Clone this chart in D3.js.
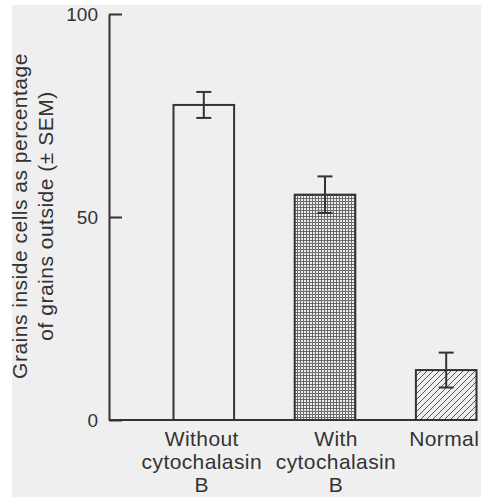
<!DOCTYPE html>
<html>
<head>
<meta charset="utf-8">
<script src="https://cdn.jsdelivr.net/npm/d3@7"></script>
<style>
  body { margin: 0; background: #fff; }
  svg { display: block; font-family: "Liberation Sans", Arial, sans-serif; }
</style>
</head>
<body>
<svg></svg>
<script>
const width = 489;
const height = 497;

// data
const categories = ["Without cytochalasin B", "With cytochalasin B", "Normal"];
const labelLines = [["Without", "cytochalasin", "B"], ["With", "cytochalasin", "B"], ["Normal"]];
const values = [77.6, 55.5, 12.3];
const sem = [3.2, 4.5, 4.3];
const yTicks = [0, 50, 100];
const fills = ["none", "url(#grid)", "url(#hatch)"];

const ink = "#333";

const svg = d3.select("svg")
    .attr("width", width)
    .attr("height", height);

// scanned page background
svg.append("rect")
    .attr("x", 12).attr("y", 5)
    .attr("width", 469).attr("height", height - 5)
    .attr("fill", "#efefef");

const defs = svg.append("defs");

// dense grid fill for the middle bar
const grid = defs.append("pattern")
    .attr("id", "grid")
    .attr("patternUnits", "userSpaceOnUse")
    .attr("width", 3).attr("height", 3);
grid.append("rect").attr("width", 3).attr("height", 3).attr("fill", "#ececec");
grid.append("path")
    .attr("d", "M0,0.5H3M0.5,0V3")
    .attr("stroke", "#6a6a6a")
    .attr("stroke-width", 1);

// diagonal hatch for the last bar
const hatch = defs.append("pattern")
    .attr("id", "hatch")
    .attr("patternUnits", "userSpaceOnUse")
    .attr("width", 6).attr("height", 6);
hatch.append("rect").attr("width", 6).attr("height", 6).attr("fill", "#efefef");
hatch.append("path")
    .attr("d", "M-1,1L1,-1M0,6L6,0M5,7L7,5")
    .attr("stroke", "#555")
    .attr("stroke-width", 1);

const x = d3.scaleBand()
    .domain(categories)
    .range([173.5, 476.5])
    .paddingInner(0.5)
    .paddingOuter(0);

const y = d3.scaleLinear()
    .domain([0, 100])
    .range([420, 14]);

const axisX = 109;

// y axis with inward ticks
const yAxis = svg.append("g")
    .attr("transform", `translate(${axisX},0)`)
    .call(d3.axisLeft(y).tickValues(yTicks).tickSize(-13).tickSizeOuter(0).tickPadding(11));
yAxis.select(".domain").attr("stroke", ink).attr("stroke-width", 2);
yAxis.selectAll(".tick line").attr("stroke", ink).attr("stroke-width", 2);
yAxis.selectAll(".tick text")
    .attr("fill", ink)
    .attr("font-size", 19)
    .attr("font-family", "Liberation Sans, Arial, sans-serif");

// baseline
svg.append("line")
    .attr("x1", axisX).attr("x2", x.range()[1])
    .attr("y1", y(0)).attr("y2", y(0))
    .attr("stroke", ink).attr("stroke-width", 2);

// bars
svg.append("g").selectAll("rect")
    .data(categories)
    .join("rect")
    .attr("x", d => x(d))
    .attr("y", (d, i) => y(values[i]))
    .attr("width", x.bandwidth())
    .attr("height", (d, i) => y(0) - y(values[i]))
    .attr("fill", (d, i) => fills[i])
    .attr("stroke", ink)
    .attr("stroke-width", 2);

// error bars
const err = svg.append("g")
    .attr("stroke", ink)
    .attr("stroke-width", 2)
    .selectAll("g")
    .data(categories)
    .join("g")
    .attr("transform", d => `translate(${x(d) + x.bandwidth() / 2},0)`);
err.append("line")
    .attr("y1", (d, i) => y(values[i] - sem[i]))
    .attr("y2", (d, i) => y(values[i] + sem[i]));
err.append("line")
    .attr("x1", -7.5).attr("x2", 7.5)
    .attr("y1", (d, i) => y(values[i] + sem[i]))
    .attr("y2", (d, i) => y(values[i] + sem[i]));
err.append("line")
    .attr("x1", -7.5).attr("x2", 7.5)
    .attr("y1", (d, i) => y(values[i] - sem[i]))
    .attr("y2", (d, i) => y(values[i] - sem[i]));

// category labels (hand-placed in the original, so small shifts)
const labelShift = [-2, 11, -2];
svg.append("g").selectAll("text")
    .data(categories)
    .join("text")
    .attr("x", (d, i) => x(d) + x.bandwidth() / 2 + labelShift[i])
    .attr("y", 446)
    .attr("text-anchor", "middle")
    .attr("font-size", 21)
    .attr("letter-spacing", 0.4)
    .attr("fill", ink)
    .selectAll("tspan")
    .data((d, i) => labelLines[i])
    .join("tspan")
    .attr("x", function () { return this.parentNode.getAttribute("x"); })
    .attr("dy", (d, j) => j === 0 ? 0 : 23)
    .text(d => d);

// y axis title, two lines
const title = svg.append("text")
    .attr("transform", `translate(27,${y(50) - 1}) rotate(-90)`)
    .attr("text-anchor", "middle")
    .attr("font-size", 21)
    .attr("letter-spacing", 0.5)
    .attr("fill", ink);
title.append("tspan").attr("x", 0).attr("dy", 0).text("Grains inside cells as percentage");
title.append("tspan").attr("x", 0).attr("dy", 26).text("of grains outside (± SEM)");
</script>
</body>
</html>
